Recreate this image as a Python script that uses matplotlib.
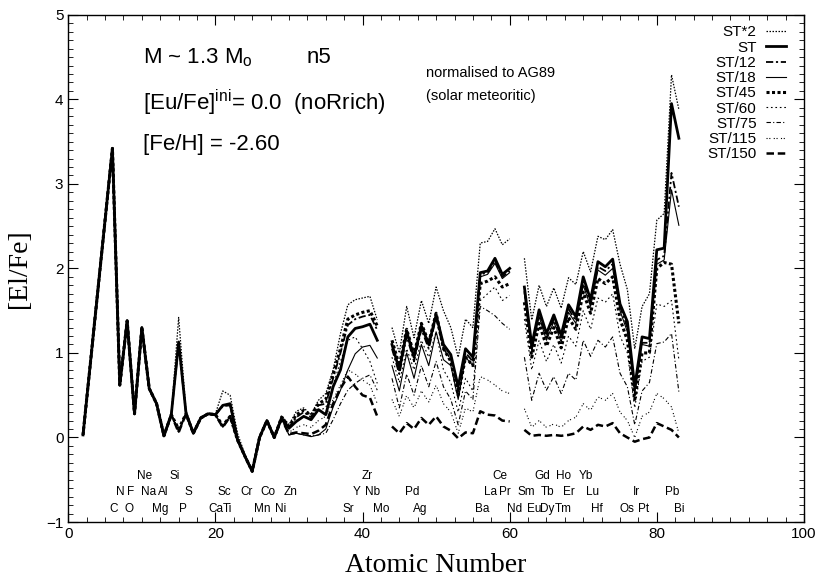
import numpy as np
import matplotlib.pyplot as plt
from matplotlib.ticker import MultipleLocator

plt.rcParams['font.family'] = ['Liberation Sans', 'DejaVu Sans']
plt.rcParams['mathtext.fontset'] = 'custom'
plt.rcParams['mathtext.rm'] = 'Liberation Sans'
plt.rcParams['mathtext.it'] = 'Liberation Sans:italic'

nan = np.nan

# He and C..Si are the same for every model
z_common = [2, 6, 7, 8, 9, 10, 11, 12, 13, 14]
common = [0.03, 3.42, 0.62, 1.38, 0.28, 1.30, 0.58, 0.40, 0.02, 0.27]

# P (15) .. Bi (83); Tc (43) and Pm (61) left out -> nan
z_rest = list(range(15, 84))

st_x2 = [1.42, 0.32, 0.06, 0.24, 0.29, 0.28, 0.55, 0.50, 0.05, -0.20, -0.40, 0.00, 0.21, 0.02,
         0.26, 0.15, 0.31, 0.35, 0.27, 0.44, 0.52, 0.80, 1.23, 1.57, 1.63, 1.65, 1.67, 1.39,
         nan,
         1.30, 1.00, 1.55, 1.18, 1.62, 1.35, 1.78, 1.50, 1.30, 0.95, 1.40, 1.30, 2.30, 2.32, 2.47, 2.28, 2.35,
         nan,
         2.12, 1.39, 1.80, 1.55, 1.77, 1.53, 1.89, 1.81, 2.20, 1.96, 2.38, 2.34, 2.46, 2.05, 1.75, 1.05,
         1.55, 1.70, 2.57, 2.65, 4.29, 3.88]
st = [1.13, 0.29, 0.05, 0.23, 0.28, 0.27, 0.38, 0.40, -0.02, -0.22, -0.40, 0.00, 0.20, 0.00,
      0.23, 0.11, 0.19, 0.25, 0.21, 0.33, 0.27, 0.60, 0.80, 1.19, 1.29, 1.31, 1.34, 1.15,
      nan,
      1.10, 0.80, 1.25, 0.95, 1.32, 1.10, 1.45, 1.10, 0.98, 0.60, 1.05, 0.95, 1.95, 1.97, 2.12, 1.93, 2.00,
      nan,
      1.78, 1.09, 1.51, 1.23, 1.45, 1.21, 1.57, 1.43, 1.90, 1.63, 2.08, 2.02, 2.11, 1.58, 1.37, 0.60,
      1.19, 1.17, 2.22, 2.24, 3.95, 3.54]
st_12 = [1.10, 0.28, 0.05, 0.23, 0.28, 0.27, 0.37, 0.38, -0.03, -0.22, -0.40, 0.00, 0.20, 0.00,
         0.23, 0.12, 0.24, 0.30, 0.24, 0.38, 0.40, 0.70, 1.00, 1.33, 1.40, 1.43, 1.45, 1.27,
         nan,
         1.05, 0.75, 1.20, 0.90, 1.28, 1.05, 1.42, 1.05, 0.93, 0.55, 1.00, 0.90, 1.93, 1.95, 2.09, 1.90, 1.97,
         nan,
         1.73, 1.04, 1.46, 1.18, 1.40, 1.16, 1.52, 1.38, 1.85, 1.58, 2.02, 1.97, 2.05, 1.55, 1.30, 0.55,
         1.12, 1.12, 2.10, 2.15, 3.13, 2.73]
st_18 = [0.08, 0.28, 0.05, 0.23, 0.28, 0.26, 0.13, 0.25, -0.03, -0.22, -0.40, 0.00, 0.20, 0.00,
         0.22, 0.03, 0.05, 0.03, 0.01, 0.03, 0.10, 0.36, 0.56, 0.80, 0.99, 1.07, 1.09, 0.94,
         nan,
         0.85, 0.55, 1.00, 0.70, 1.10, 0.85, 1.25, 0.92, 0.85, 0.45, 0.95, 0.85, 1.90, 1.93, 2.06, 1.88, 1.95,
         nan,
         1.70, 1.02, 1.43, 1.15, 1.37, 1.13, 1.48, 1.35, 1.80, 1.55, 1.98, 1.92, 2.00, 1.50, 1.25, 0.52,
         1.10, 1.08, 2.05, 2.10, 2.93, 2.51]
st_45 = [0.10, 0.28, 0.05, 0.23, 0.28, 0.27, 0.14, 0.25, -0.03, -0.22, -0.40, 0.00, 0.20, 0.00,
         0.24, 0.13, 0.27, 0.32, 0.26, 0.40, 0.45, 0.75, 1.05, 1.40, 1.45, 1.48, 1.50, 1.32,
         nan,
         1.15, 0.85, 1.28, 0.98, 1.35, 1.12, 1.47, 1.05, 0.90, 0.50, 0.95, 0.85, 1.82, 1.85, 1.90, 1.78, 1.82,
         nan,
         1.60, 0.95, 1.35, 1.08, 1.30, 1.06, 1.42, 1.28, 1.72, 1.47, 1.88, 1.82, 1.90, 1.40, 1.15, 0.45,
         1.00, 1.00, 2.00, 2.07, 2.05, 1.35]
st_60 = [0.08, 0.28, 0.05, 0.23, 0.28, 0.27, 0.13, 0.25, -0.03, -0.22, -0.40, 0.00, 0.20, 0.00,
         0.23, 0.10, 0.20, 0.25, 0.22, 0.32, 0.35, 0.62, 0.90, 1.15, 1.19, 1.05, 0.90, 0.64,
         nan,
         0.95, 0.65, 1.05, 0.80, 1.15, 0.95, 1.25, 0.80, 0.65, 0.30, 0.70, 0.55, 1.62, 1.70, 1.78, 1.62, 1.68,
         nan,
         1.40, 0.80, 1.15, 0.90, 1.10, 0.88, 1.20, 1.08, 1.50, 1.28, 1.65, 1.60, 1.70, 1.20, 1.00, 0.35,
         0.90, 0.95, 1.58, 1.55, 1.62, 0.92]
st_75 = [0.06, 0.28, 0.05, 0.23, 0.28, 0.27, 0.12, 0.25, -0.03, -0.22, -0.40, 0.00, 0.20, 0.00,
         0.22, 0.03, 0.05, 0.03, 0.02, 0.03, 0.05, 0.21, 0.40, 0.56, 0.64, 0.70, 0.74, 0.56,
         nan,
         0.70, 0.35, 0.75, 0.50, 0.85, 0.60, 0.90, 0.60, 0.45, 0.15, 0.55, 0.45, 1.55, 1.50, 1.44, 1.35, 1.28,
         nan,
         0.95, 0.44, 0.76, 0.56, 0.72, 0.52, 0.76, 0.68, 1.15, 0.96, 1.15, 1.07, 1.19, 0.76, 0.60, 0.15,
         0.55, 0.65, 1.11, 1.13, 1.23, 0.54]
st_115 = [0.06, 0.28, 0.05, 0.23, 0.28, 0.27, 0.12, 0.25, -0.03, -0.22, -0.40, 0.00, 0.20, 0.00,
          0.22, 0.06, 0.12, 0.15, 0.12, 0.20, 0.25, 0.45, 0.62, 0.80, 0.75, 0.68, 0.62, 0.40,
          nan,
          0.45, 0.25, 0.50, 0.35, 0.55, 0.42, 0.62, 0.40, 0.30, 0.05, 0.35, 0.30, 0.72, 0.68, 0.62, 0.55, 0.52,
          nan,
          0.34, 0.12, 0.20, 0.12, 0.16, 0.12, 0.20, 0.24, 0.40, 0.32, 0.48, 0.44, 0.52, 0.30, 0.20, 0.00,
          0.25, 0.30, 0.52, 0.46, 0.36, 0.05]
st_150 = [0.06, 0.28, 0.05, 0.23, 0.28, 0.27, 0.12, 0.25, -0.03, -0.22, -0.40, 0.00, 0.20, 0.00,
          0.22, 0.04, 0.06, 0.05, 0.04, 0.08, 0.15, 0.40, 0.58, 0.72, 0.60, 0.50, 0.47, 0.25,
          nan,
          0.13, 0.05, 0.17, 0.10, 0.23, 0.15, 0.25, 0.13, 0.08, -0.01, 0.06, 0.05, 0.31, 0.27, 0.26, 0.20, 0.19,
          nan,
          0.09, 0.02, 0.03, 0.02, 0.03, 0.02, 0.03, 0.05, 0.13, 0.09, 0.15, 0.13, 0.17, 0.05, 0.00, -0.05,
          -0.02, 0.00, 0.17, 0.13, 0.09, 0.00]

labels = ['ST*2', 'ST', 'ST/12', 'ST/18', 'ST/45', 'ST/60', 'ST/75', 'ST/115', 'ST/150']
series = [st_x2, st, st_12, st_18, st_45, st_60, st_75, st_115, st_150]

# element names under the curves, three rows, x
row1 = ['Ne', 'Si', 'Zr', 'Ce', 'Gd', 'Ho', 'Yb']
row1_x = [10.4, 14.5, 40.6, 58.7, 64.4, 67.3, 70.4]
row2 = ['N', 'F', 'Na', 'Al', 'S', 'Sc', 'Cr', 'Co', 'Zn', 'Y', 'Nb', 'Pd',
        'La', 'Pr', 'Sm', 'Tb', 'Er', 'Lu', 'Ir', 'Pb']
row2_x = [7.1, 8.5, 10.9, 12.9, 16.3, 21.2, 24.3, 27.2, 30.2, 39.2, 41.3, 46.7,
          57.4, 59.4, 62.3, 65.2, 68.0, 71.2, 77.3, 82.1]
row3 = ['C', 'O', 'Mg', 'P', 'Ca', 'Ti', 'Mn', 'Ni', 'Sr', 'Mo', 'Ag',
        'Ba', 'Nd', 'Eu', 'Dy', 'Tm', 'Hf', 'Os', 'Pt', 'Bi']
row3_x = [6.1, 8.2, 12.5, 15.6, 20.1, 21.7, 26.3, 28.8, 38.1, 42.6, 47.8,
          56.2, 60.7, 63.3, 65.1, 67.3, 71.9, 76.0, 78.2, 83.0]

# line styles
styles = [
    dict(ls=(0, (1.2, 1.2)), lw=0.9),
    dict(ls='-', lw=2.0),
    dict(ls=(0, (4, 1.5, 1.2, 1.5)), lw=1.3),
    dict(ls='-', lw=0.8),
    dict(ls=(0, (1.0, 0.8)), lw=2.2),
    dict(ls=(0, (1.5, 2.5)), lw=0.8),
    dict(ls=(0, (4, 2, 1, 2)), lw=0.8),
    dict(ls=(0, (1, 1.5, 1, 3)), lw=0.8),
    dict(ls=(0, (3, 1.5)), lw=1.8),
]

fig = plt.figure(figsize=(8.16, 5.77), dpi=100)
ax = fig.add_axes([0.0837, 0.0953, 0.9015, 0.879])

z = np.array(z_common + z_rest)
for name, vals, sty in zip(labels, series, styles):
    y = np.array(common + vals)
    zo = 3 if name == 'ST' else 2
    ax.plot(z, y, color='black', label=name, zorder=zo, **sty)

ax.set_xlim(0, 100)
ax.set_ylim(-1, 5)
ax.xaxis.set_major_locator(MultipleLocator(20))
ax.xaxis.set_minor_locator(MultipleLocator(2.5))
ax.yaxis.set_major_locator(MultipleLocator(1))
ax.yaxis.set_minor_locator(MultipleLocator(0.1))
ax.tick_params(which='both', direction='in', top=True, right=True, labelsize=11)
ax.tick_params(which='major', length=7)
ax.tick_params(which='minor', length=3.5)
for s in ax.spines.values():
    s.set_linewidth(1.0)

ax.set_xlabel('Atomic Number', family='Liberation Serif', fontsize=20, labelpad=9)
ax.set_ylabel('[El/Fe]', family='Liberation Serif', fontsize=20, labelpad=10)

for names, xs, yrow in [(row1, row1_x, -0.45), (row2, row2_x, -0.645), (row3, row3_x, -0.85)]:
    for n, x in zip(names, xs):
        ax.text(x, yrow, n, ha='center', va='center', fontsize=8.5)

ax.text(10.2, 4.43, r'M ~ 1.3 M$_{\rm o}$', fontsize=16, va='baseline')
ax.text(32.4, 4.43, 'n5', fontsize=16, va='baseline')
ax.text(10.2, 3.87, r'[Eu/Fe]$^{\rm ini}$= 0.0  (noRrich)', fontsize=16, va='baseline')
ax.text(10.2, 3.40, '[Fe/H] = -2.60', fontsize=16, va='baseline')
ax.text(48.6, 4.31, 'normalised to AG89', fontsize=10.5, va='center')
ax.text(48.6, 4.04, '(solar meteoritic)', fontsize=10.5, va='center')

# markerfirst=False packs the entries right-aligned: labels left, handles right
ax.legend(loc='upper right', bbox_to_anchor=(0.975, 0.979), frameon=False,
          markerfirst=False, fontsize=11, handlelength=1.3, handletextpad=0.6,
          labelspacing=0.08, borderpad=0, borderaxespad=0)

fig.savefig('out.png', dpi=100)
